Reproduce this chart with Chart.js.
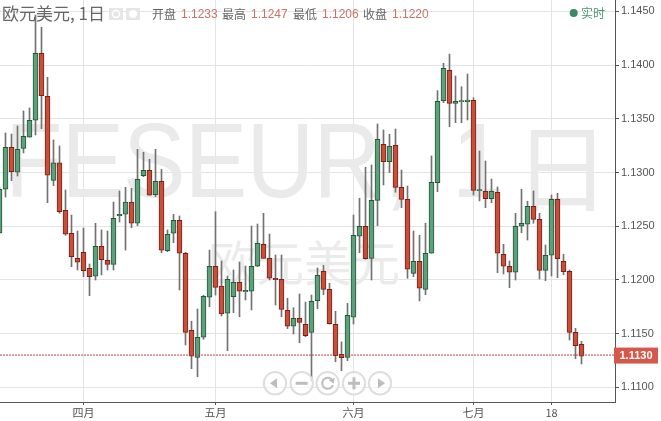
<!DOCTYPE html>
<html>
<head>
<meta charset="utf-8">
<script src="https://cdn.jsdelivr.net/npm/chart.js@4/dist/chart.umd.min.js"></script>
<style>
	html, body { margin: 0; padding: 0; background: #fff; overflow: hidden; }
	canvas { display: block; }
</style>
</head>
<body>
<canvas id="grafico" width="661" height="421"></canvas>
<script>
var opens = [1.12437, 1.12844, 1.13235, 1.13002, 1.13225, 1.13328, 1.13486, 1.14110, 1.13710, 1.12927,
	1.13091, 1.12648, 1.12434, 1.12201, 1.12257, 1.12108, 1.12034, 1.12313, 1.12182, 1.12145,
	1.12597, 1.12611, 1.12725, 1.12527, 1.12970, 1.13020, 1.12793, 1.12918, 1.12272, 1.12434,
	1.12555, 1.12248, 1.11531, 1.11279, 1.11466, 1.11838, 1.12127, 1.11943, 1.11689, 1.11844,
	1.11978, 1.11890, 1.11894, 1.12127, 1.12331, 1.12201, 1.12015, 1.12006, 1.11717, 1.11568,
	1.11642, 1.11587, 1.11512, 1.11806, 1.12080, 1.11912, 1.11587, 1.11307, 1.11279, 1.11652,
	1.12406, 1.12499, 1.12201, 1.12741, 1.13263, 1.13100, 1.13253, 1.12862, 1.12750, 1.12061,
	1.12173, 1.11912, 1.12248, 1.12905, 1.13669, 1.13952, 1.13644, 1.13659, 1.13660, 1.13672,
	1.12830, 1.12825, 1.12756, 1.12816, 1.12238, 1.12127, 1.12071, 1.12499, 1.12518, 1.12685,
	1.12564, 1.12089, 1.12229, 1.12750, 1.12173, 1.12080, 1.11512, 1.11400];
var closes = [1.12844, 1.13235, 1.13007, 1.13216, 1.13337, 1.13486, 1.14110, 1.13715, 1.12974, 1.13091,
	1.12635, 1.12425, 1.12216, 1.12164, 1.12086, 1.12030, 1.12313, 1.12188, 1.12145, 1.12574,
	1.12611, 1.12725, 1.12527, 1.12937, 1.13020, 1.12788, 1.12918, 1.12276, 1.12425, 1.12555,
	1.12248, 1.11512, 1.11289, 1.11466, 1.11847, 1.12127, 1.11931, 1.11682, 1.12006, 1.11978,
	1.11894, 1.11902, 1.12127, 1.12341, 1.12201, 1.12015, 1.12002, 1.11726, 1.11568, 1.11642,
	1.11605, 1.11480, 1.11801, 1.12043, 1.11912, 1.11592, 1.11294, 1.11276, 1.11670, 1.12415,
	1.12499, 1.12197, 1.12741, 1.13309, 1.13100, 1.13244, 1.12862, 1.12750, 1.12099, 1.12173,
	1.11922, 1.12248, 1.12909, 1.13663, 1.13970, 1.13644, 1.13663, 1.13669, 1.13673, 1.12834,
	1.12840, 1.12756, 1.12825, 1.12248, 1.12127, 1.12071, 1.12499, 1.12527, 1.12685, 1.12564,
	1.12089, 1.12229, 1.12750, 1.12197, 1.12076, 1.11512, 1.11387, 1.11289];
var highs = [1.12860, 1.13368, 1.13358, 1.13433, 1.13573, 1.13601, 1.14466, 1.14352, 1.13886, 1.13303,
	1.13247, 1.12837, 1.12604, 1.12455, 1.12483, 1.12148, 1.12527, 1.12465, 1.12455, 1.12725,
	1.12828, 1.12862, 1.12853, 1.13216, 1.13188, 1.13123, 1.13216, 1.13030, 1.12465, 1.12611,
	1.12595, 1.12257, 1.11615, 1.11729, 1.11857, 1.12278, 1.12635, 1.12176, 1.12036, 1.12092,
	1.12167, 1.12129, 1.12502, 1.12520, 1.12620, 1.12427, 1.12232, 1.12232, 1.11829, 1.11741,
	1.11869, 1.11794, 1.11859, 1.12111, 1.12136, 1.11968, 1.11708, 1.11422, 1.11782, 1.12604,
	1.12760, 1.13048, 1.13070, 1.13452, 1.13396, 1.13356, 1.13405, 1.13023, 1.12874, 1.12455,
	1.12415, 1.12527, 1.13154, 1.13762, 1.14017, 1.14103, 1.13899, 1.13799, 1.13917, 1.13696,
	1.13200, 1.13107, 1.12939, 1.12865, 1.12331, 1.12176, 1.12620, 1.12844, 1.12732, 1.12828,
	1.12620, 1.12325, 1.12790, 1.12806, 1.12238, 1.12092, 1.11549, 1.11428];
var lows = [1.12430, 1.12772, 1.12924, 1.12967, 1.13182, 1.13328, 1.13349, 1.13408, 1.12719, 1.12877,
	1.12620, 1.12415, 1.12123, 1.12092, 1.12030, 1.11853, 1.11999, 1.12046, 1.12092, 1.12092,
	1.12539, 1.12278, 1.12486, 1.12505, 1.12961, 1.12788, 1.12775, 1.12253, 1.12263, 1.12346,
	1.11906, 1.11394, 1.11173, 1.11099, 1.11447, 1.11750, 1.11859, 1.11664, 1.11341, 1.11695,
	1.11657, 1.11813, 1.11720, 1.12123, 1.12201, 1.11999, 1.11766, 1.11657, 1.11546, 1.11496,
	1.11415, 1.11471, 1.11061, 1.11732, 1.11862, 1.11587, 1.11238, 1.11155, 1.11248, 1.11589,
	1.12253, 1.12192, 1.11999, 1.12505, 1.12884, 1.12998, 1.12816, 1.12672, 1.12015, 1.12030,
	1.11804, 1.11862, 1.12248, 1.12821, 1.13650, 1.13426, 1.13464, 1.13464, 1.13489, 1.12790,
	1.12735, 1.12672, 1.12719, 1.12067, 1.12055, 1.11927, 1.11999, 1.12439, 1.12371, 1.12527,
	1.12008, 1.11993, 1.12036, 1.12020, 1.12048, 1.11440, 1.11266, 1.11217];

var priceTicks = [1.11, 1.115, 1.12, 1.125, 1.13, 1.135, 1.14, 1.145];
var monthTicks = [14, 36, 59, 79, 92];
var monthLabels = ["四月", "五月", "六月", "七月", "18"];
var lastPrice = 1.113;
var headerItems = [["开盘", "1.1233"], ["最高", "1.1247"], ["最低", "1.1206"], ["收盘", "1.1220"]];

var xMin = 1 / 12, xMax = xMin + 102.5;
var yMin = 1.10863, yMax = 1.14606;
var verde = "#609f7c", verdeBorda = "#1f5a3b", vermelho = "#c5503c", vermelhoBorda = "#7c1e14";
var sansFont = "'Liberation Sans', 'Noto Sans CJK SC', sans-serif";

function candleCor(ctx, cima, baixo) {
	return closes[ctx.dataIndex] >= opens[ctx.dataIndex] ? cima : baixo;
}

function escreve(c, texto, x, y, fonte, cor, align) {
	c.font = fonte;
	c.fillStyle = cor;
	c.textAlign = align || "left";
	c.textBaseline = "middle";
	c.fillText(texto, x, y);
}

// big faded text behind the candles
var marcaDagua = {
	id: "marcaDagua",
	beforeDatasetsDraw: function (chart) {
		var c = chart.ctx;
		c.save();
		c.beginPath();
		c.rect(0, 0, 615, 402);
		c.clip();
		c.save();
		c.scale(0.885, 1);
		c.letterSpacing = "-1px";
		escreve(c, "FESEUR", 5 / 0.885, 168, "106px " + sansFont, "#eaeaea");
		escreve(c, ",", 384 / 0.885, 168, "106px " + sansFont, "#eaeaea");
		escreve(c, "1", 452 / 0.885, 168, "106px " + sansFont, "#eaeaea");
		c.restore();
		c.letterSpacing = "0px";
		escreve(c, "日", 514, 168, "96px 'Noto Sans CJK SC', sans-serif", "#eaeaea");
		escreve(c, "欧元美元", 208, 263, "48px 'Noto Sans CJK SC', sans-serif", "#ebebeb");
		c.restore();
	}
};

var botoes = [275, 301.7, 327.7, 354, 380];

function desenhaBotoes(c) {
	var y = 383.3;
	c.save();
	botoes.forEach(function (x, i) {
		c.beginPath();
		c.arc(x, y, 11.2, 0, Math.PI * 2);
		c.fillStyle = "rgba(255,255,255,0.6)";
		c.fill();
		c.lineWidth = 2;
		c.strokeStyle = "#dedede";
		c.stroke();
		c.fillStyle = "#bdbdbd";
		c.strokeStyle = "#bdbdbd";
		if (i == 0 || i == 4) {
			var d = i == 0 ? -1 : 1;
			c.beginPath();
			c.moveTo(x + d * 5, y);
			c.lineTo(x - d * 2, y - 5);
			c.lineTo(x - d * 2, y + 5);
			c.fill();
		}
		if (i == 1 || i == 3) c.fillRect(x - 6, y - 1.5, 12, 3);
		if (i == 3) c.fillRect(x - 1.5, y - 6, 3, 12);
		if (i == 2) {
			c.beginPath();
			c.arc(x, y, 5.5, 0.3, Math.PI * 1.8);
			c.stroke();
			c.beginPath();
			c.moveTo(x + 7, y - 5.5);
			c.lineTo(x + 6, y + 0.5);
			c.lineTo(x + 1, y - 3);
			c.fill();
		}
	});
	c.restore();
}

function desenhaIcones(c) {
	c.save();
	c.fillStyle = "#e6e6e6";
	c.fillRect(109, 8, 14, 12);
	c.fillRect(126, 8, 14, 12);
	c.strokeStyle = "#fff";
	c.fillStyle = "#fff";
	c.lineWidth = 1.5;
	c.beginPath();
	c.arc(116, 14, 3.5, 0, Math.PI * 2);
	c.stroke();
	c.beginPath();
	c.arc(133, 14, 4, 0, Math.PI * 2);
	c.fill();
	c.restore();
}

// header, nav buttons and last price tag
var extras = {
	id: "extras",
	afterDraw: function (chart) {
		var c = chart.ctx;
		c.save();
		escreve(c, "欧元美元, 1日", 2, 13.5, "17px 'Noto Sans CJK SC', sans-serif", "#666");
		desenhaIcones(c);
		var posRotulo = [152, 222, 293, 363];
		var posValor = [181, 251, 322, 392];
		headerItems.forEach(function (item, i) {
			escreve(c, item[0], posRotulo[i], 14.5, "12px 'Noto Sans CJK SC', sans-serif", "#666");
			escreve(c, item[1], posValor[i], 14.5, "12px " + sansFont, "#c8746a");
		});
		c.beginPath();
		c.arc(573.7, 13, 4, 0, Math.PI * 2);
		c.fillStyle = "#3b8a62";
		c.fill();
		escreve(c, "实时", 581, 13.5, "12px 'Noto Sans CJK SC', sans-serif", "#4f9673");
		desenhaBotoes(c);
		var y = chart.scales.y.getPixelForValue(lastPrice);
		c.fillStyle = "#d5584a";
		c.fillRect(614, y - 7.5, 44, 16);
		escreve(c, lastPrice.toFixed(4), 636, y + 0.5, "bold 11px " + sansFont, "#fff", "center");
		c.restore();
	}
};

var velas = opens.map(function (o, i) { return { x: i, y: [o, closes[i]] }; });
var pavios = lows.map(function (l, i) { return { x: i, y: [l, highs[i]] }; });

var configChart = {
	type: "bar",
	data: {
		datasets: [{
			type: "line",
			data: [{ x: xMin, y: lastPrice }, { x: xMax, y: lastPrice }],
			borderColor: "#b2463b",
			borderWidth: 1,
			borderDash: [2, 1],
			pointRadius: 0,
			order: 0,
		}, {
			data: velas,
			grouped: false,
			barThickness: 5,
			borderWidth: 1,
			borderSkipped: false,
			backgroundColor: function (ctx) { return candleCor(ctx, verde, vermelho); },
			borderColor: function (ctx) { return candleCor(ctx, verdeBorda, vermelhoBorda); },
			order: 1,
		}, {
			data: pavios,
			grouped: false,
			barThickness: 1,
			borderWidth: 0,
			backgroundColor: "#727272",
			order: 2,
		}],
	},
	options: {
		responsive: false,
		animation: false,
		layout: { padding: 0 },
		plugins: {
			legend: { display: false },
			tooltip: { enabled: false },
		},
		scales: {
			x: {
				type: "linear",
				min: xMin,
				max: xMax,
				offset: false,
				afterBuildTicks: function (scale) {
					scale.ticks = monthTicks.map(function (v) { return { value: v }; });
				},
				afterFit: function (scale) {
					scale.height = 19;
					scale.paddingLeft = 0;
					scale.paddingRight = 0;
				},
				grid: { color: "#e4e4e4", tickColor: "#555", tickLength: 3, offset: false },
				border: { color: "#555", width: 1 },
				ticks: {
					autoSkip: false,
					maxRotation: 0,
					padding: 1,
					color: "#555",
					font: { size: 11, family: "'Noto Sans CJK SC', sans-serif" },
					callback: function (value) { return monthLabels[monthTicks.indexOf(value)]; },
				},
			},
			y: {
				position: "right",
				min: yMin,
				max: yMax,
				afterBuildTicks: function (scale) {
					scale.ticks = priceTicks.map(function (v) { return { value: v }; });
				},
				afterFit: function (scale) {
					scale.width = 46;
					scale.paddingTop = 0;
					scale.paddingBottom = 0;
				},
				grid: { color: "#e4e4e4", tickColor: "#555", tickLength: 4 },
				border: { color: "#555", width: 1 },
				ticks: {
					padding: 2,
					color: "#555",
					font: { size: 11, family: "'Liberation Sans', sans-serif" },
					callback: function (value) { return value.toFixed(4); },
				},
			},
		},
	},
	plugins: [marcaDagua, extras],
};

new Chart(document.getElementById("grafico").getContext("2d"), configChart);
</script>
</body>
</html>
